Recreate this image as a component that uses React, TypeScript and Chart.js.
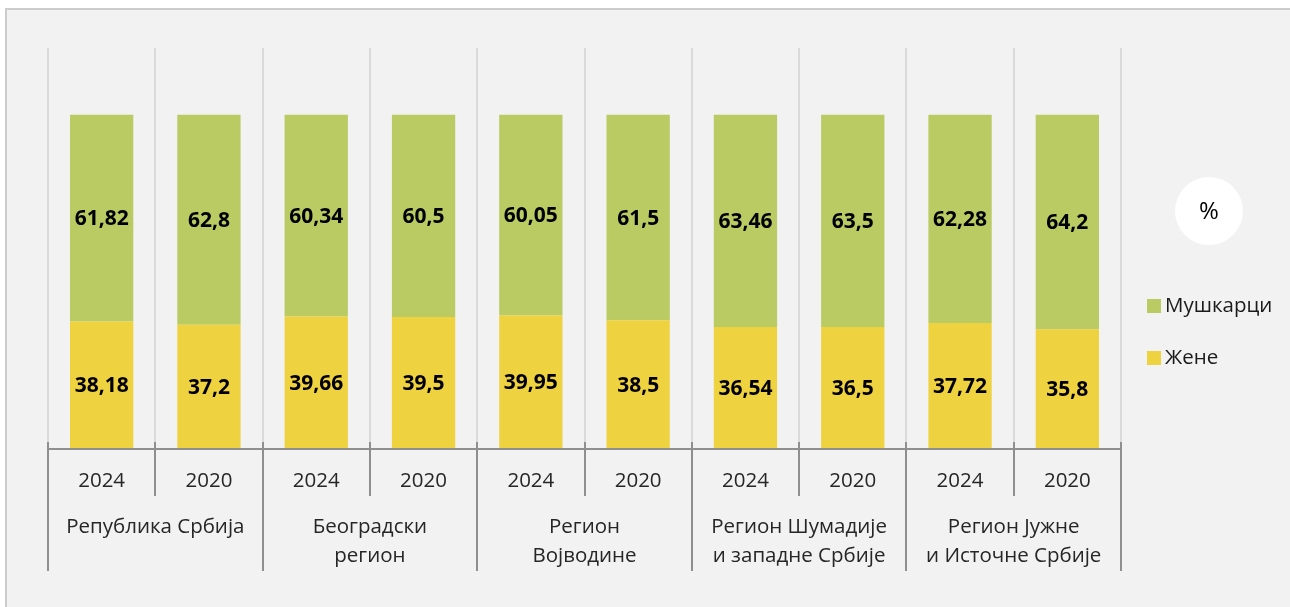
import React, { useEffect, useRef } from "react";
import { Chart, registerables } from "chart.js";

Chart.register(...registerables);

const years = ["2024", "2020", "2024", "2020", "2024", "2020", "2024", "2020", "2024", "2020"];
const groups: string[][] = [
  ["Република Србија"],
  ["Београдски", "регион"],
  ["Регион", "Војводине"],
  ["Регион Шумадије", "и западне Србије"],
  ["Регион Јужне", "и Источне Србије"],
];
const women = [38.18, 37.2, 39.66, 39.5, 39.95, 38.5, 36.54, 36.5, 37.72, 35.8];
const men = [61.82, 62.8, 60.34, 60.5, 60.05, 61.5, 63.46, 63.5, 62.28, 64.2];
const seriesNames = ["Мушкарци", "Жене"];

const GREEN = "#bacb63";
const YELLOW = "#efd240";
const FONT = "'Open Sans', 'Noto Sans', sans-serif";

const customPlugin = {
  id: "custom",
  beforeDraw(chart: any) {
    const ctx = chart.ctx;
    ctx.save();
    ctx.fillStyle = "#f2f2f2";
    ctx.fillRect(0, 0, chart.width, chart.height);
    const x = chart.scales.x;
    const area = chart.chartArea;
    const step = x.getPixelForValue(1) - x.getPixelForValue(0);
    ctx.strokeStyle = "#dadada";
    ctx.lineWidth = 2;
    for (let i = 0; i <= years.length; i++) {
      const px = Math.round(x.getPixelForValue(i) - step / 2);
      ctx.beginPath();
      ctx.moveTo(px, area.top);
      ctx.lineTo(px, area.bottom);
      ctx.stroke();
    }
    ctx.restore();
  },
  afterDatasetsDraw(chart: any) {
    const ctx = chart.ctx;
    const x = chart.scales.x;
    const area = chart.chartArea;
    const step = x.getPixelForValue(1) - x.getPixelForValue(0);
    ctx.save();
    // data labels
    ctx.font = `bold 21px ${FONT}`;
    ctx.fillStyle = "#000";
    ctx.textAlign = "center";
    ctx.textBaseline = "middle";
    chart.data.datasets.forEach((ds: any, di: number) => {
      const meta = chart.getDatasetMeta(di);
      meta.data.forEach((bar: any, i: number) => {
        const top = Math.min(bar.y, bar.base);
        const bot = Math.max(bar.y, bar.base);
        ctx.fillText(String(ds.data[i]).replace(".", ","), bar.x, (top + bot) / 2 + 1);
      });
    });
    // axis line
    ctx.strokeStyle = "#8f8f8f";
    ctx.lineWidth = 2;
    ctx.beginPath();
    ctx.moveTo(x.getPixelForValue(0) - step / 2, area.bottom);
    ctx.lineTo(x.getPixelForValue(years.length - 1) + step / 2, area.bottom);
    ctx.stroke();
    // tick separators
    for (let i = 0; i <= years.length; i++) {
      const px = Math.round(x.getPixelForValue(i) - step / 2);
      const long = i % 2 === 0;
      ctx.beginPath();
      ctx.moveTo(px, area.bottom - 7);
      ctx.lineTo(px, area.bottom + (long ? 122 : 47));
      ctx.stroke();
    }
    // year labels
    ctx.font = `20.5px ${FONT}`;
    ctx.fillStyle = "#262626";
    years.forEach((y, i) => {
      ctx.fillText(y, x.getPixelForValue(i), area.bottom + 32);
    });
    // group labels
    groups.forEach((lines, g) => {
      const cx = (x.getPixelForValue(g * 2) + x.getPixelForValue(g * 2 + 1)) / 2;
      lines.forEach((t, li) => {
        ctx.fillText(t, cx, area.bottom + 78 + li * 29);
      });
    });
    // legend
    const right = area.right;
    const cxp = right + 88;
    ctx.fillStyle = "#ffffff";
    ctx.beginPath();
    ctx.arc(cxp, 201, 34, 0, Math.PI * 2);
    ctx.fill();
    ctx.fillStyle = "#000";
    ctx.font = `24px ${FONT}`;
    ctx.fillText("%", cxp, 202);
    const colors = [GREEN, YELLOW];
    seriesNames.forEach((n, k) => {
      const ly = 296 + k * 52;
      ctx.fillStyle = colors[k];
      ctx.fillRect(right + 26, ly - 7, 14, 14);
      ctx.fillStyle = "#1a1a1a";
      ctx.font = `20.5px ${FONT}`;
      ctx.textAlign = "left";
      ctx.fillText(n, right + 44, ly);
    });
    ctx.restore();
  },
};

export default function App() {
  const ref = useRef<HTMLCanvasElement>(null);
  useEffect(() => {
    if (!ref.current) return;
    const chart = new Chart(ref.current, {
      type: "bar",
      data: {
        labels: years,
        datasets: [
          { label: seriesNames[1], data: women, backgroundColor: YELLOW, barPercentage: 0.59, categoryPercentage: 1 },
          { label: seriesNames[0], data: men, backgroundColor: GREEN, barPercentage: 0.59, categoryPercentage: 1 },
        ],
      },
      options: {
        animation: false,
        responsive: false,
        maintainAspectRatio: false,
        layout: { padding: { left: 41, right: 170, top: 38, bottom: 159 } },
        plugins: { legend: { display: false }, tooltip: { enabled: false } },
        scales: {
          x: { stacked: true, display: false },
          y: { stacked: true, display: false, min: 0, max: 120 },
        },
      },
      plugins: [customPlugin],
    });
    return () => chart.destroy();
  }, []);
  return (
    <div style={{ position: "fixed", left: 5, top: 8, width: 1290, height: 605, border: "2px solid #cccccc", boxSizing: "border-box", background: "#f2f2f2" }}>
      <canvas ref={ref} width={1284} height={598} style={{ display: "block", position: "absolute", left: 0, top: 0 }} />
    </div>
  );
}
